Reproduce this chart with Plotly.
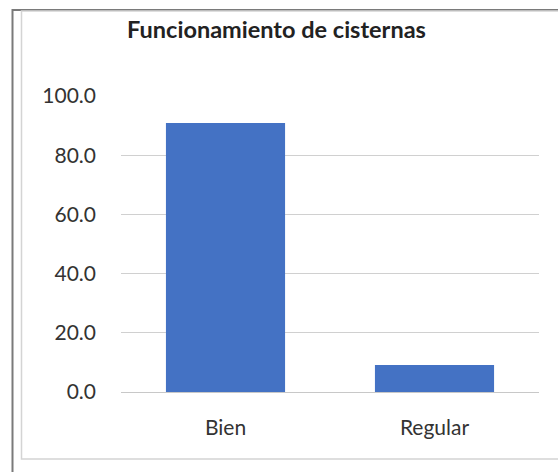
import plotly.graph_objects as go

# Chart data
categories = ["Bien", "Regular"]
values = [90.9, 9.1]
tick_values = [0, 20, 40, 60, 80, 100]
tick_labels = ["0.0", "20.0", "40.0", "60.0", "80.0", "100.0"]
title_text = "Funcionamiento de cisternas"

W, H = 558, 472
L, R, T, B = 121, 19, 96, 80
FONT = "Lato, 'Open Sans', sans-serif"
TEXT = "#333333"


def px_x(px):
    """Pixel x -> paper x."""
    return (px - L) / (W - L - R)


def px_y(py):
    """Pixel y (from top) -> paper y."""
    return (H - B - py) / (H - T - B)


fig = go.Figure(
    go.Bar(
        x=categories,
        y=values,
        marker=dict(color="#4472C4", line=dict(width=0)),
        width=0.57,
    )
)

shapes = [
    # outer frame
    dict(type="rect", xref="paper", yref="paper",
         x0=px_x(12.5), x1=px_x(W + 20), y0=px_y(H + 20), y1=px_y(10),
         line=dict(color="#7a7a7a", width=2), fillcolor="rgba(0,0,0,0)", layer="above"),
    # inner chart-area frame
    dict(type="rect", xref="paper", yref="paper",
         x0=px_x(21.5), x1=px_x(W + 20), y0=px_y(459), y1=px_y(11),
         line=dict(color="#d4d4d4", width=1.5), fillcolor="rgba(0,0,0,0)", layer="above"),
]

fig.update_layout(
    width=W,
    height=H,
    margin=dict(l=L, r=R, t=T, b=B),
    paper_bgcolor="white",
    plot_bgcolor="white",
    showlegend=False,
    font=dict(family=FONT, color=TEXT, size=21),
    title=dict(
        text="<b>" + title_text + "</b>",
        x=276.5 / W,
        xanchor="center",
        xref="container",
        y=1 - 30 / H,
        yref="container",
        yanchor="middle",
        font=dict(family=FONT, size=23.5, color="#222222"),
    ),
    shapes=shapes,
    bargap=0.43,
)

fig.update_yaxes(
    range=[0, 100],
    tickmode="array",
    tickvals=tick_values,
    ticktext=tick_labels,
    showgrid=True,
    gridcolor="#d0d0d0",
    gridwidth=1.4,
    zeroline=False,
    showline=False,
    ticks="",
    ticklabelstandoff=24,
    tickfont=dict(family=FONT, size=21, color=TEXT),
    fixedrange=True,
)

fig.update_xaxes(
    showgrid=False,
    showline=True,
    linecolor="#c8c8c8",
    linewidth=1.4,
    ticks="",
    ticklabelstandoff=17,
    tickfont=dict(family=FONT, size=21, color=TEXT),
    fixedrange=True,
)

fig.write_html("out.html")
